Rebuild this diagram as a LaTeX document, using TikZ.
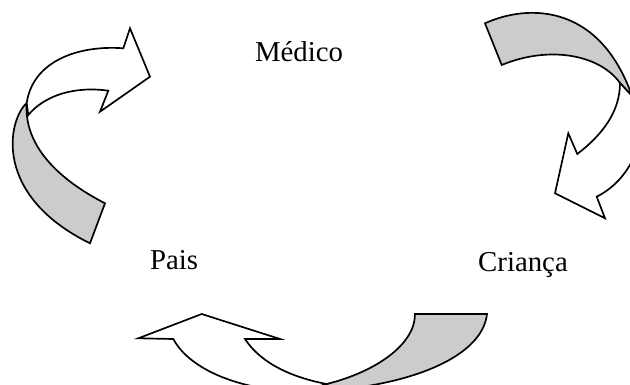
\documentclass[tikz,border=0pt]{standalone}
\usepackage{fontspec}
\setmainfont{Liberation Serif}
\usetikzlibrary{positioning}

\begin{document}
\begin{tikzpicture}[
  x=0.4167pt, y=-0.4167pt,
  lab/.style={font=\fontsize{12}{14}\selectfont, anchor=base, inner sep=0pt},
  face/.style={draw, fill=white, line width=0.7pt, line join=miter},
  fold/.style={draw, fill=gray!40, line width=0.7pt, line join=miter}]

\useasboundingbox (0,0) rectangle (630,385);
\clip (0,0) rectangle (630,385);

% Labels
\node[lab] (med) at (299,62) {Médico};
\node[lab] (pais) at (174,269) {Pais};
\node[lab] (cri) at (523,271) {Criança};

% Left arrow (Pais to Medico)
\draw[fold] (26.7,103) .. controls (8,120) and (-8,195) .. (90,243.3)
  -- (105,203.3) .. controls (50,175) and (24,140) .. (26.7,103) -- cycle;
\draw[face] (26.7,103) .. controls (33,60) and (80,45) .. (123.3,48.3)
  -- (130,28.3) -- (150,76.7) -- (100,111.7) -- (108.3,90.7)
  .. controls (75,86) and (45,95) .. (28.3,115) -- cycle;

% Right arrow (Medico to Crianca)
\draw[fold] (485,23.3) .. controls (530,3) and (600,5) .. (632,96)
  -- (620,83) .. controls (600,55) and (550,45) .. (501.7,65) -- cycle;
\draw[face] (632,96) .. controls (652,130) and (634,178) .. (596.7,196.7)
  -- (605,218.3) -- (555,193.3) -- (568.3,133.3) -- (577.3,154)
  .. controls (602,135) and (620,112) .. (620,83) -- cycle;

% Bottom arrow (Crianca to Pais)
\draw[fold] (326.7,384) .. controls (375,372) and (415,345) .. (415,314)
  -- (487,314) .. controls (482,360) and (400,390) .. (300,392) -- cycle;
\draw[face] (173.3,339) -- (138.3,338.3) -- (201.7,314) -- (280,339)
  -- (245,339) .. controls (262,365) and (295,378) .. (326.7,384)
  -- (300,392) .. controls (240,390) and (190,370) .. (173.3,339) -- cycle;
\end{tikzpicture}
\end{document}
